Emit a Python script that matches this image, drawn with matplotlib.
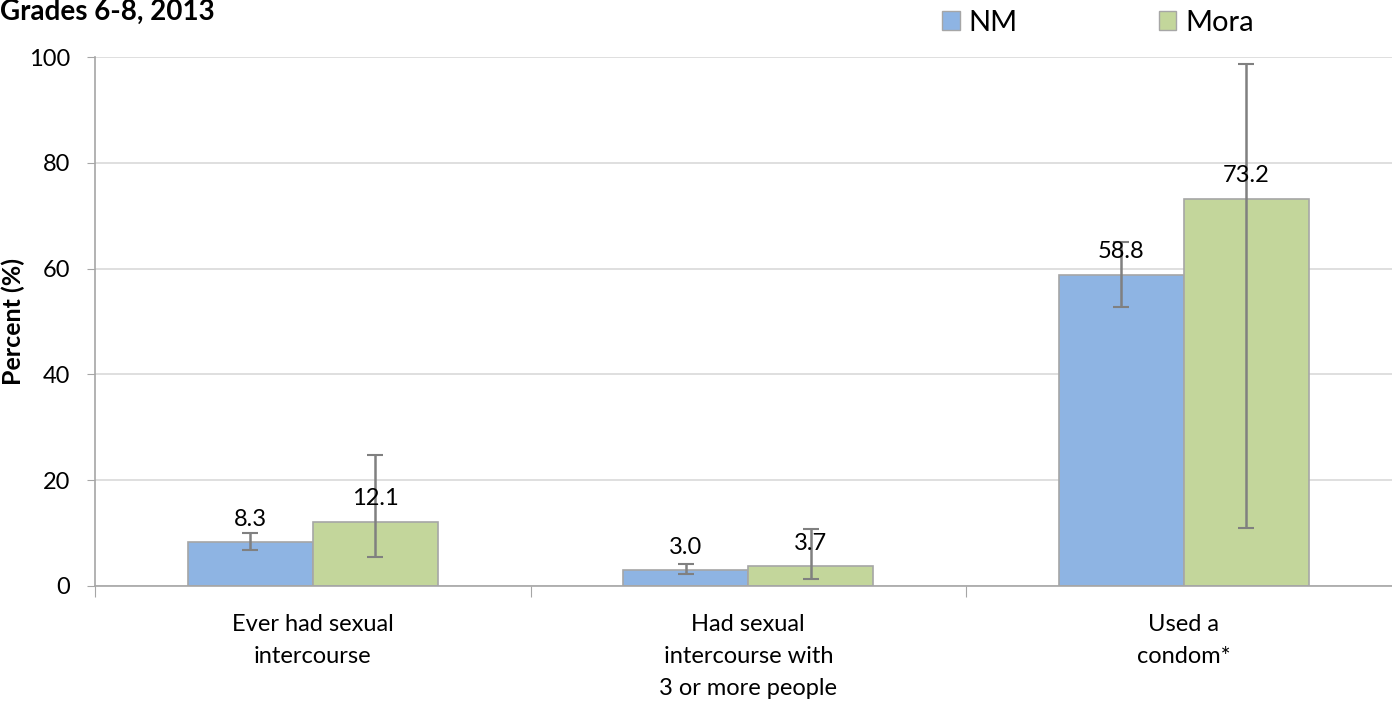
import numpy as np
import matplotlib
matplotlib.use("Agg")
import matplotlib.pyplot as plt
import matplotlib.patches as mpatches

plt.rcParams["font.family"] = ["Lato", "DejaVu Sans"]

# ── data ─────────────────────────────────────────────────────
categories = ["Ever had sexual\nintercourse",
              "Had sexual\nintercourse with\n3 or more people",
              "Used a\ncondom*"]
series = ["NM", "Mora"]
nm_values = [8.3, 3.0, 58.8]
mora_values = [12.1, 3.7, 73.2]
nm_ci_low = [6.8, 2.3, 52.8]
nm_ci_high = [10.1, 4.2, 65.0]
mora_ci_low = [5.5, 1.3, 11.0]
mora_ci_high = [24.8, 10.8, 98.6]
y_ticks = [0, 20, 40, 60, 80, 100]

NM_COLOR = "#8EB4E3"
MORA_COLOR = "#C3D69B"
EDGE = "#A6A6A6"
ERR = "#808080"
FS = 17

fig = plt.figure(figsize=(13.92, 7.25), dpi=100)
ax = fig.add_axes([95 / 1392, 1 - 586 / 725, (1392 - 95) / 1392, (586 - 57) / 725])

x = np.arange(len(categories))
w = 0.287

for vals, lo, hi, color, off in [(nm_values, nm_ci_low, nm_ci_high, NM_COLOR, -w / 2),
                                 (mora_values, mora_ci_low, mora_ci_high, MORA_COLOR, w / 2)]:
    vals = np.array(vals)
    err = [vals - np.array(lo), np.array(hi) - vals]
    ax.bar(x + off, vals, width=w, color=color, edgecolor=EDGE, linewidth=1.2, zorder=2)
    ax.errorbar(x + off, vals, yerr=err, fmt="none", ecolor=ERR, elinewidth=1.8,
                capsize=6, capthick=1.5, zorder=3)
    for xi, v in zip(x + off, vals):
        ax.annotate(f"{v:.1f}", (xi, v), xytext=(0, 9), textcoords="offset points",
                    ha="center", va="bottom", fontsize=FS, zorder=4)

ax.set_yticks(y_ticks)
ax.tick_params(axis="y", labelsize=FS, length=6, color=EDGE, pad=12)
ax.yaxis.grid(True, color="#D9D9D9", linewidth=1.2, zorder=0)
ax.set_axisbelow(True)

# category boundaries as major ticks, labels at centres
ax.set_xticks([-0.5, 0.5, 1.5, 2.5])
ax.set_xticklabels([])
ax.set_xticks(x, minor=True)
ax.set_xticklabels(categories, minor=True, fontsize=FS, linespacing=1.65)
ax.tick_params(axis="x", which="major", length=8, color=EDGE)
ax.tick_params(axis="x", which="minor", length=0, pad=20)

# limits after the ticks, so set_xticks does not widen them again
ax.set_ylim(0, 100)
ax.set_xlim(-0.5, 2.478)

for side in ["top", "right"]:
    ax.spines[side].set_visible(False)
for side in ["left", "bottom"]:
    ax.spines[side].set_color(EDGE)
    ax.spines[side].set_linewidth(1.2)

ax.set_ylabel("Percent (%)", fontsize=18, fontweight="bold")
ax.yaxis.set_label_coords(-0.054, 0.5)

handles = [mpatches.Patch(facecolor=NM_COLOR, edgecolor=EDGE, label=series[0]),
           mpatches.Patch(facecolor=MORA_COLOR, edgecolor=EDGE, label=series[1])]
fig.legend(handles=handles, loc="center left", bbox_to_anchor=(942 / 1392, 1 - 23 / 725),
           ncol=2, frameon=False, fontsize=21, handlelength=0.6, handleheight=0.6,
           handletextpad=0.3, columnspacing=4.85, borderaxespad=0, borderpad=0)

fig.text(0.0, 1 - 12 / 725, "Grades 6-8, 2013", fontsize=20, fontweight="bold",
         ha="left", va="center")

fig.savefig("out.png", dpi=100)
